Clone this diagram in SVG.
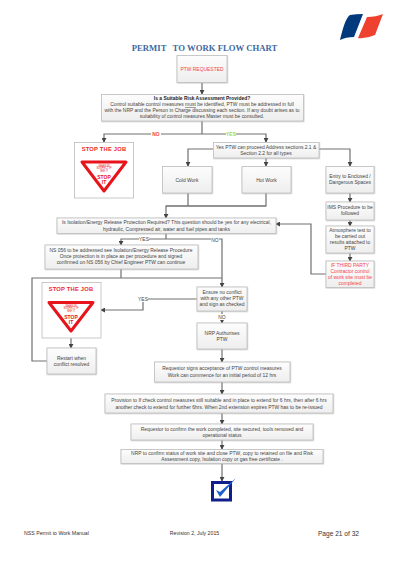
<svg xmlns="http://www.w3.org/2000/svg" width="403" height="570" viewBox="0 0 403 570">
<style>
text{font-family:"Liberation Sans",Arial,sans-serif;font-size:4.95px;fill:#444;text-anchor:middle}
.box{fill:url(#g);stroke:#c4c4c4;stroke-width:.9;filter:url(#s)}
.ln{fill:none;stroke:#707070;stroke-width:1.2}
.arr{marker-end:url(#a)}
.red{fill:#f4424e}
.grn{fill:#9ed84f}
.stop{font-size:5.800px;font-weight:bold;fill:#f0262e;letter-spacing:.2px}
.tri{fill:#fff;stroke:#e8141c;stroke-width:3;stroke-linejoin:round}
.lbl{fill:#fff;stroke:none}
</style>
<defs>
<linearGradient id="g" x1="0" y1="0" x2="0" y2="1"><stop offset="0" stop-color="#fdfdfd"/><stop offset="1" stop-color="#eeeeee"/></linearGradient>
<filter id="s" x="-5%" y="-5%" width="110%" height="115%"><feDropShadow dx=".4" dy=".5" stdDeviation=".4" flood-color="#999" flood-opacity=".6"/></filter>
<marker id="a" viewBox="0 0 6 6" refX="5" refY="3" markerWidth="5" markerHeight="5" markerUnits="userSpaceOnUse" orient="auto"><path d="M0 0L6 3L0 6z" fill="#444"/></marker>
</defs>
<g id="logo"><path d="M340 40Q345 18 350 15Q356 14 363 14L354 37Q346 37 340 40z" fill="#003a7d"/><path d="M358 38L367 17Q376 17 383 14L375 35Q366 39 358 38z" fill="#ef4130"/></g>
<text x="204.500" y="50.500" style="font-family:'Liberation Serif',serif;font-size:8.700px;font-weight:bold;fill:#3f67a0" xml:space="preserve">PERMIT   TO WORK FLOW CHART</text>
<g id="connectors">
<path class="ln arr" d="M202 82V94"/>
<path class="ln" d="M202 121V134"/>
<path class="ln arr" d="M202 134H104V142"/>
<path class="ln arr" d="M202 134H266V142"/>
<path class="ln arr" d="M213 149H188V166"/>
<path class="ln arr" d="M266 158V166"/>
<path class="ln arr" d="M319 149H350V166"/>
<path class="ln arr" d="M350 193V202"/>
<path class="ln arr" d="M350 220V226"/>
<path class="ln arr" d="M350 253V261"/>
<path class="ln" d="M188 193V206M266 193V206H166"/>
<path class="ln arr" d="M266 206H166V218"/>
<path class="ln arr" d="M326 274H311V224H276"/>
<path class="ln" d="M166 233V239"/>
<path class="ln arr" d="M166 239H121V245"/>
<path class="ln arr" d="M166 239H222V287"/>
<path class="ln" d="M121 269V278M222 278H32V361H47"/>
<path class="ln arr" d="M197 299H143V310H101"/>
<path class="ln arr" d="M71 338V348"/>
<path class="ln arr" d="M222 311V323"/>
<path class="ln arr" d="M222 349V362"/>
<path class="ln arr" d="M222 382V394"/>
<path class="ln arr" d="M222 413V424"/>
<path class="ln arr" d="M222 440V449"/>
<path class="ln arr" d="M222 463V481"/>
<rect class="lbl" x="151" y="131" width="10" height="6"/><text x="156" y="136" class="red" style="font-weight:bold">NO</text>
<rect class="lbl" x="226" y="131" width="10" height="6"/><text x="231" y="136" class="grn" style="font-weight:bold">YES</text>
<rect class="lbl" x="139" y="236" width="10" height="6"/><text x="144" y="241">YES</text>
<rect class="lbl" x="211" y="237" width="8" height="6"/><text x="215" y="241.500">NO</text>
<rect class="lbl" x="138" y="296" width="10" height="6"/><text x="143" y="301">YES</text>
<rect class="lbl" x="217" y="314" width="10" height="6"/><text x="222" y="319">NO</text>
</g>
<g id="ptw-requested"><rect class="box" x="177" y="55.500" width="50" height="27"/><text x="202" y="70.500" class="red">PTW REQUESTED</text></g>
<g id="risk-assessment"><rect class="box" x="101.500" y="94.500" width="202" height="26.500"/>
<text x="202" y="100.200" style="font-weight:bold;fill:#222">Is a Suitable Risk Assessment Provided?</text>
<text x="202" y="106">Control suitable control measures <tspan text-decoration="underline">must</tspan> be identified, PTW must be addressed in full</text>
<text x="202" y="111.800">with the NRP and the Person in Charge  discussing each section.  If any doubt arises as to</text>
<text x="202" y="117.600">suitability of control measures Master must be consulted.</text></g>
<g id="stop-job-1"><rect x="74.500" y="142.500" width="59" height="55.500" fill="#fff" stroke="#c4c4c4" stroke-width=".9"/>
<text x="104" y="151" class="stop">STOP THE JOB</text>
<path class="tri" d="M82 162H126L104 191z"/>
<text x="104" y="166.500" style="font-size:2.600px;fill:#e8141c">WHEN IN</text><text x="104" y="169.300" style="font-size:2.600px;fill:#e8141c">SUSPECT IF</text><text x="104" y="172" style="font-size:2.600px;fill:#e8141c">SEE IT</text>
<text x="104" y="179" style="font-size:5px;font-weight:bold;fill:#e8141c">STOP</text><text x="104" y="184" style="font-size:5px;font-weight:bold;fill:#e8141c">IT</text></g>
<g id="yes-ptw"><rect class="box" x="213.500" y="142.500" width="105.500" height="15.500"/><text x="266" y="148.800">Yes PTW can proceed Address sections 2.1 &amp;</text><text x="266" y="155">Section 2.2 for all types</text></g>
<g id="cold-work"><rect class="box" x="162.500" y="166.500" width="49.500" height="26.500"/><text x="187" y="181.500">Cold Work</text></g>
<g id="hot-work"><rect class="box" x="242" y="166.500" width="49" height="26.500"/><text x="266.500" y="181.500">Hot Work</text></g>
<g id="enclosed"><rect class="box" x="326" y="166.500" width="48" height="26.500"/><text x="350" y="178">Entry to Enclosed /</text><text x="350" y="184">Dangerous Spaces</text></g>
<g id="ims"><rect class="box" x="326" y="202" width="48" height="18"/><text x="350" y="208.500">IMS Procedure to be</text><text x="350" y="214.800">followed</text></g>
<g id="atmosphere"><rect class="box" x="326" y="226" width="48" height="27"/><text x="350" y="231.500">Atmosphere test to</text><text x="350" y="237.500">be carried out</text><text x="350" y="243.500">results attached to</text><text x="350" y="249.500">PTW</text></g>
<g id="third-party"><rect class="box" x="326" y="261" width="48" height="26.500"/><text x="350" y="266.500" class="red">IF THIRD PARTY</text><text x="350" y="272.500" class="red">Contractor control</text><text x="350" y="278.500" class="red">of work site must be</text><text x="350" y="284.500" class="red">completed</text></g>
<g id="isolation"><rect class="box" x="57" y="218" width="219" height="15.500"/><text x="166.500" y="224">Is Isolation/Energy Release Protection Required? This question should be yes for any electrical,</text><text x="166.500" y="230.500">hydraulic, Compressed air, water and fuel pipes and tanks</text></g>
<g id="ns056"><rect class="box" x="45" y="245" width="153" height="24"/><text x="121" y="252">NS  056 to be addressed see Isolation/Energy Release Procedure</text><text x="121" y="258">Once protection is in place as per procedure and signed</text><text x="121" y="264">confirmed on NS 056 by Chief Engineer PTW can continue</text></g>
<g id="stop-job-2"><rect x="42" y="282.500" width="59" height="55.500" fill="#fff" stroke="#c4c4c4" stroke-width=".9"/>
<text x="71" y="291" class="stop">STOP THE JOB</text>
<path class="tri" d="M49 302.500H93L71 331z"/>
<text x="71" y="306.500" style="font-size:2.600px;fill:#e8141c">WHEN IN</text><text x="71" y="309.300" style="font-size:2.600px;fill:#e8141c">SUSPECT IF</text><text x="71" y="312" style="font-size:2.600px;fill:#e8141c">SEE IT</text>
<text x="71" y="319" style="font-size:5px;font-weight:bold;fill:#e8141c">STOP</text><text x="71" y="324" style="font-size:5px;font-weight:bold;fill:#e8141c">IT</text></g>
<g id="restart"><rect class="box" x="47" y="348" width="49" height="26"/><text x="71.500" y="360">Restart when</text><text x="71.500" y="366">conflict resolved</text></g>
<g id="ensure"><rect class="box" x="197" y="287" width="50" height="24"/><text x="222" y="294">Ensure no conflict</text><text x="222" y="300">with any other PTW</text><text x="222" y="306">and sign as checked</text></g>
<g id="nrp-authorises"><rect class="box" x="197" y="323" width="50" height="26"/><text x="222" y="335">NRP Authorises</text><text x="222" y="341">PTW</text></g>
<g id="requestor-signs"><rect class="box" x="154.500" y="362" width="135.500" height="20"/><text x="222" y="370">Requestor signs acceptance of PTW control measures</text><text x="222" y="377">Work can commence for an initial period of 12 hrs</text></g>
<g id="provision"><rect class="box" x="105" y="394" width="228" height="19"/><text x="219" y="402">Provision to If check control measures still suitable and in place to extend for 6 hrs, then after 6 hrs</text><text x="219" y="408.500">another check to extend for further 6hrs. When 2nd extension expires PTW has to be re-issued</text></g>
<g id="requestor-confirm"><rect class="box" x="131" y="424" width="182" height="16"/><text x="222" y="430.500">Requestor to confirm the work completed, site secured, tools removed and</text><text x="222" y="436.500">operational status</text></g>
<g id="nrp-confirm"><rect class="box" x="121" y="449.500" width="202" height="14"/><text x="222" y="455">NRP to confirm status of work site and close PTW, copy to retained on file and Risk</text><text x="222" y="461">Assessment copy, Isolation copy or gas free certificate .</text></g>
<g id="done"><rect x="212.500" y="482.500" width="18" height="17.500" fill="#fff" stroke="#101f8c" stroke-width="3"/><path d="M216 490L220 497L236 478L220 492z" fill="#1c5fd0"/></g>
<text x="56.500" y="535" style="font-size:5.200px;fill:#333">NSS Permit to Work Manual</text>
<text x="194.500" y="535" style="font-size:5.200px;fill:#333">Revision 2, July 2015</text>
<text x="338.500" y="535.500" style="font-size:6.600px;fill:#333">Page 21 of 32</text>
</svg>
